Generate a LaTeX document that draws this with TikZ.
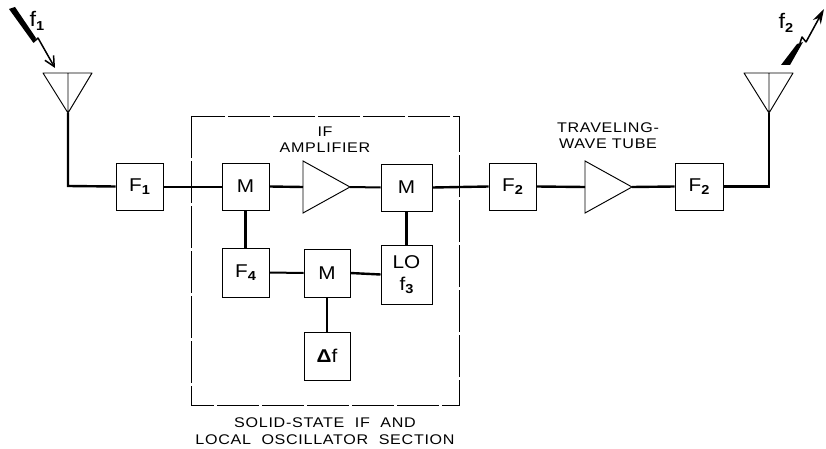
\documentclass[tikz,border=0pt]{standalone}
\usepackage{fontspec}
\setmainfont{Liberation Sans}
\newfontfamily\lblfont[LetterSpace=5,FakeStretch=1.15]{Liberation Sans}
\newfontfamily\blkfont[FakeStretch=1.12]{Liberation Sans}
\usetikzlibrary{arrows.meta}
\newcommand{\subdigit}[1]{\raisebox{-3.5pt}{\fontsize{13}{13}\selectfont\bfseries #1}}
\tikzset{
  x=1pt,y=-1pt,
  blk/.style={draw,line width=0.95pt,inner sep=0pt,font=\fontsize{18.5}{20}\selectfont\blkfont,align=center},
  wire/.style={line width=2.4pt},
  thinwire/.style={line width=2pt},
  sect/.style={draw,line width=0.95pt,dash pattern=on 42pt off 3pt},
  amp/.style={draw,line width=0.95pt,fill=white},
  lbl/.style={inner sep=0pt,align=center,font=\fontsize{14}{16.5}\selectfont\lblfont},
  freq/.style={inner sep=0pt,font=\fontsize{21}{22}\selectfont\blkfont},
}
\newcommand{\boxnode}[6]{\node[blk,minimum width=#4 pt,minimum height=#5 pt] (#1) at (#2,#3) {#6};}
\begin{document}
\begin{tikzpicture}
\useasboundingbox (0,0) rectangle (826,449);
% section frame
\draw[sect] (191,116) rectangle (459,405);
% wiring anchors are on the blocks, so the blocks come first
\boxnode{fa}{139.5}{186.5}{47}{47}{F\subdigit{1}}
\boxnode{ma}{245.5}{186.5}{47}{47}{M}
\boxnode{mb}{406.5}{187.5}{51}{47}{M}
\boxnode{ff}{245.5}{272.5}{47}{49}{F\subdigit{4}}
\boxnode{mc}{327}{273}{46}{48}{M}
\boxnode{lo}{406.5}{274.5}{51}{59}{LO\\[2pt]f\subdigit{3}}
\boxnode{df}{327}{356}{46}{48}{{\bfseries Δ}f}
\boxnode{fb}{512.5}{186.5}{47}{47}{F\subdigit{2}}
\boxnode{fc}{699}{186.5}{48}{47}{F\subdigit{2}}
% amplifiers
\coordinate (ainA) at (303,187);
\coordinate (aoutA) at (350,187);
\coordinate (ainB) at (585,187);
\coordinate (aoutB) at (632,187);
\draw[amp] (303,161) -- (350,187) -- (303,213) -- cycle;
\draw[amp] (585,161) -- (632,187) -- (585,213) -- cycle;
% antennas
\coordinate (antA) at (68,113);
\coordinate (antB) at (769,113);
\coordinate (kneeA) at (68,186);
\draw[line width=0.95pt,line join=round] (43,73) -- (92,73) -- (antA) -- cycle (68,73) -- (antA);
\draw[line width=0.95pt,line join=round] (744,73) -- (793,73) -- (antB) -- cycle (769,73) -- (antB);
% wiring
\draw[wire] (antA) -- (kneeA) -- (fa.west);
\draw[thinwire] (fa.east) -- (ma.west);
\draw[wire] (ma.east) -- (ainA);
\draw[thinwire] (aoutA) -- (mb.west);
\draw[wire] (mb.east) -- (fb.west);
\draw[wire] (fb.east) -- (ainB);
\draw[wire] (aoutB) -- (fc.west);
\draw[wire] (fc.east) -| (antB);
\draw[wire] (ma.south) -- (ff.north);
\draw[thinwire] (ff.east) -- (mc.west);
\draw[wire] (mc.east) -- (lo.west);
\draw[wire] (mc.south) -- (df.north);
\draw[wire] (mb.south) -- (lo.north);
% lightning arrows
\fill (9,9) -- (15,7) -- (36,38) -- (33.5,43) -- cycle;
\coordinate (ba) at (33.5,42);
\coordinate (bj) at (38,38);
\coordinate (bb) at (55,68);
\draw[line width=1.5pt,line join=round,-{Straight Barb[length=10pt,width=10pt]}] (ba) -- (bj) -- (bb);
\fill (781,65) -- (790,65) -- (803,42) -- (797,44) -- cycle;
\coordinate (bc) at (800,43);
\coordinate (bk) at (802,37);
\coordinate (bl) at (806,42);
\coordinate (bd) at (824,9);
\draw[line width=1.5pt,line join=round,-{Stealth[length=15pt,width=9pt]}] (bc) -- (bk) -- (bl) -- (bd);
% labels
\node[freq] (lfa) at (37,21) {f\subdigit{1}};
\node[freq] (lfb) at (786,23) {f\subdigit{2}};
\node[lbl] (lif) at (325,139.5) {IF\\AMPLIFIER};
\node[lbl] (ltw) at (608,135.5) {TRAVELING-\\WAVE TUBE};
\node[lbl] (lsec) at (325,431) {\spaceskip=10.5pt SOLID-STATE IF AND\\\spaceskip=10.5pt LOCAL OSCILLATOR SECTION};
\end{tikzpicture}
\end{document}
